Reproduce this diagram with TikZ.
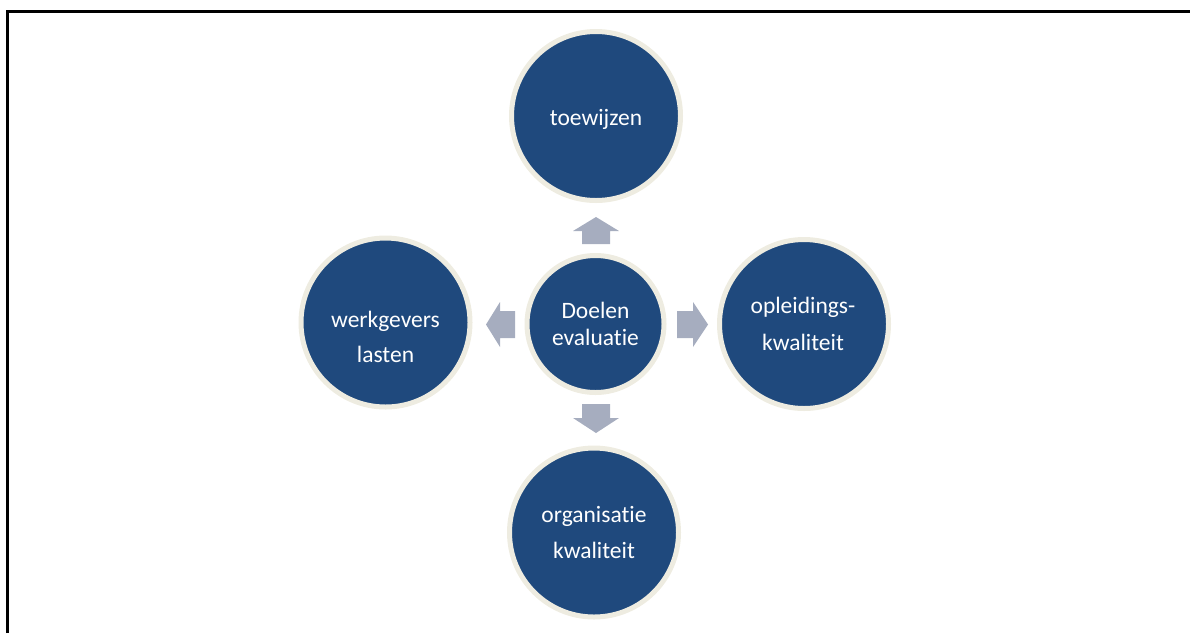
\documentclass[tikz,border=0pt]{standalone}
\usepackage{fontspec}
\setmainfont{Carlito}[Ligatures={NoCommon,NoDiscretionary}]
\definecolor{nodeblue}{HTML}{1F497D}
\definecolor{ringcream}{HTML}{EEECE1}
\definecolor{arrowgrey}{HTML}{A6ADBF}
\tikzset{
  bigcircle/.style={circle, fill=nodeblue, draw=ringcream, line width=5pt, minimum size=169pt, inner sep=0pt},
  midcircle/.style={circle, fill=nodeblue, draw=ringcream, line width=5pt, minimum size=137pt, inner sep=0pt},
  lbl/.style={anchor=base, text=white, inner sep=0pt, font=\fontsize{23.5}{28}\selectfont},
  blockarrow/.style={fill=arrowgrey, draw=none},
  frameline/.style={line width=3pt, draw=black}
}
\begin{document}
\begin{tikzpicture}[x=1pt,y=-1pt]
\useasboundingbox (0,0) rectangle (1190,633);
\draw[frameline] (7,633) -- (7,11) -- (1191,11);

\node[midcircle] (c) at (595.5,324) {};
\node[bigcircle] (top) at (596,116) {};
\node[bigcircle] (left) at (385.5,322.5) {};
\node[bigcircle] (right) at (804,324) {};
\node[bigcircle] (bot) at (594,532.5) {};

\node[lbl] (c1) at (595.5,318) {Doelen};
\node[lbl] (c2) at (595.5,345) {evaluatie};
\node[lbl] (t1) at (596,125) {toewijzen};
\node[lbl] (l1) at (385.5,327) {werkgevers};
\node[lbl] (l2) at (385.5,362) {lasten};
\node[lbl] (r1) at (803,313) {opleidings-};
\node[lbl] (r2) at (803,350) {kwaliteit};
\node[lbl] (b1) at (594,522) {organisatie};
\node[lbl] (b2) at (594,558) {kwaliteit};

% block arrows
\fill[blockarrow] (582,244) -- (582,231) -- (573,231) -- (596,217) -- (619,231) -- (610,231) -- (610,244) -- cycle;
\fill[blockarrow] (582,404) -- (582,418) -- (573,418) -- (596,433) -- (619,418) -- (610,418) -- (610,404) -- cycle;
\fill[blockarrow] (677,311) -- (693,311) -- (693,302) -- (708,324.5) -- (693,347) -- (693,338) -- (677,338) -- cycle;
\fill[blockarrow] (515,311) -- (500,311) -- (500,302) -- (486,324.5) -- (500,347) -- (500,338) -- (515,338) -- cycle;
\end{tikzpicture}
\end{document}
